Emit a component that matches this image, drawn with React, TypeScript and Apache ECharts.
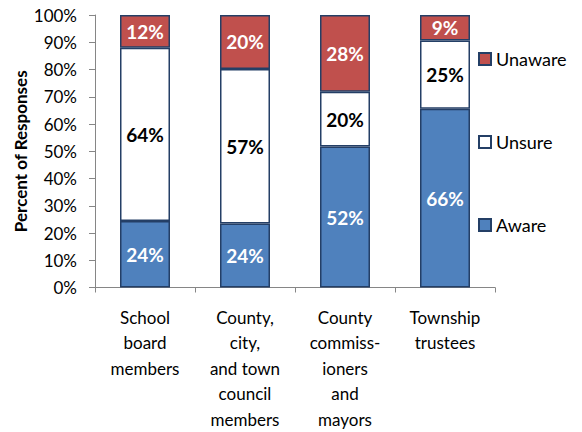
import React, { useEffect, useRef } from "react";
import * as echarts from "echarts";

const categories = [
  "School\nboard\nmembers",
  "County,\ncity,\nand town\ncouncil\nmembers",
  "County\ncommiss-\nioners\nand\nmayors",
  "Township\ntrustees",
];
const aware = [24.4, 23.5, 51.7, 65.6];
const unsure = [63.6, 56.7, 20.1, 25.0];
const unaware = [12.0, 19.8, 28.2, 9.4];
const yTicks = [0, 10, 20, 30, 40, 50, 60, 70, 80, 90, 100];

const FONT = "Lato";

export default function App() {
  const ref = useRef<HTMLDivElement>(null);
  useEffect(() => {
    const chart = echarts.init(ref.current!, null, { renderer: "svg" });
    const border = "#243F66";
    const mk = (name: string, data: number[], color: string, labelColor: string) => ({
      name,
      type: "bar",
      stack: "total",
      data,
      barWidth: "50%",
      itemStyle: { color, borderColor: border, borderWidth: 1.5 },
      label: {
        show: true,
        position: "inside",
        color: labelColor,
        fontFamily: FONT,
        fontWeight: "bold",
        fontSize: 19,
        formatter: (p: any) => Math.round(p.value) + "%",
      },
    });
    chart.setOption({
      animation: false,
      grid: { left: 95, right: 87, top: 15, bottom: 143 },
      legend: {
        data: ["Unaware", "Unsure", "Aware"],
        orient: "vertical",
        left: 473,
        top: 45,
        itemGap: 65,
        itemWidth: 12,
        itemHeight: 12,
        icon: "rect",
        textStyle: { fontFamily: FONT, fontSize: 18, color: "#000" },
      },
      xAxis: {
        type: "category",
        data: categories,
        axisLine: { lineStyle: { color: "#868686", width: 1 } },
        axisTick: { show: true, alignWithLabel: false, length: 5, lineStyle: { color: "#868686" } },
        axisLabel: {
          interval: 0,
          fontFamily: FONT,
          fontSize: 17,
          color: "#000",
          lineHeight: 25.5,
          margin: 17,
          align: "center",
        },
      },
      yAxis: {
        type: "value",
        min: 0,
        max: 100,
        interval: 10,
        name: "Percent of Responses",
        nameLocation: "middle",
        nameGap: 66,
        nameMoveOverlap: false,
        nameTextStyle: { fontFamily: FONT, fontWeight: "bold", fontSize: 17, color: "#000" },
        splitLine: { show: false },
        axisLine: { show: true, lineStyle: { color: "#868686", width: 1 } },
        axisTick: { show: true, length: 6, lineStyle: { color: "#868686" } },
        axisLabel: {
          fontFamily: FONT,
          fontSize: 17,
          color: "#000",
          margin: 18,
          formatter: (v: number) => (yTicks.includes(v) ? v + "%" : ""),
        },
      },
      series: [
        mk("Aware", aware, "#4F81BD", "#fff"),
        mk("Unsure", unsure, "#FFFFFF", "#000"),
        mk("Unaware", unaware, "#C0504D", "#fff"),
      ],
    });
    return () => chart.dispose();
  }, []);
  return (
    <div
      ref={ref}
      style={{ position: "absolute", left: 0, top: 0, width: 582, height: 432 }}
    />
  );
}
